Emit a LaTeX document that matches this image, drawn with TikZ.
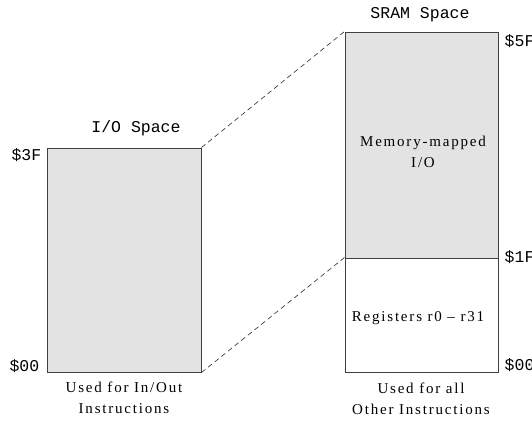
\documentclass[tikz,border=0pt]{standalone}
\usepackage{fontspec}
\setmainfont{Liberation Serif}[LetterSpace=12]
\setmonofont{Liberation Mono}
\usepackage{xcolor}
\definecolor{spacefill}{gray}{0.89}
\definecolor{spaceline}{gray}{0.25}
\tikzset{
    mem-box/.style = {draw=spaceline, line width=1pt, rectangle, inner sep=0pt},
    mem-title/.style = {font=\fontsize{16.5}{19}\selectfont\ttfamily, inner sep=0pt},
    mem-addr/.style = {font=\fontsize{16.5}{19}\selectfont\ttfamily, inner sep=0pt},
    mem-text/.style = {font=\fontsize{15}{21}\selectfont, align=center, inner sep=0pt},
    map-line/.style = {draw=spaceline, line width=0.7pt, dash pattern=on 5pt off 3.5pt},
}

\begin{document}
\begin{tikzpicture}[x=1pt, y=-1pt]
\useasboundingbox (0,0) rectangle (532,421);
% I/O space
\node [mem-box, fill=spacefill, minimum width=154pt, minimum height=224pt] (io) at (124,260) {};
\node [mem-title] (io-title) at (136,128) {I/O Space};
\node [mem-addr, anchor=north east] (io-top) at ([xshift=-5pt, yshift=-1pt]io.north west) {\$3F};
\node [mem-addr, anchor=base east] (io-bot) at ([xshift=-7pt, yshift=1pt]io.south west) {\$00};
\node [mem-text] (io-use) at (124,398) {Used for In/Out\\Instructions};

% SRAM space
\node [mem-box, fill=spacefill, minimum width=153pt, minimum height=226pt] (mmio) at (421.5,145) {};
\node [mem-box, fill=white, minimum width=153pt, minimum height=114pt] (regs) at (421.5,315) {};
\node [mem-title] (sram-title) at (420,15) {SRAM Space};
\node [mem-text] (mmio-text) at (423,152) {Memory-mapped\\I/O};
\node [mem-text] (regs-text) at (418,318) {Registers r0 -- r31};
\node [mem-addr, anchor=north west] (sram-top) at ([xshift=6pt, yshift=-3pt]mmio.north east) {\$5F};
\node [mem-addr, anchor=west] (sram-mid) at ([xshift=6pt]regs.north east) {\$1F};
\node [mem-addr, anchor=base west] (sram-bot) at ([xshift=6pt, yshift=2pt]regs.south east) {\$00};
\node [mem-text] (sram-use) at (421,399) {Used for all\\Other Instructions};

% mapping of I/O space into SRAM
\draw [map-line] (io.north east) -- (mmio.north west);
\draw [map-line] (io.south east) -- (regs.north west);
\end{tikzpicture}
\end{document}
